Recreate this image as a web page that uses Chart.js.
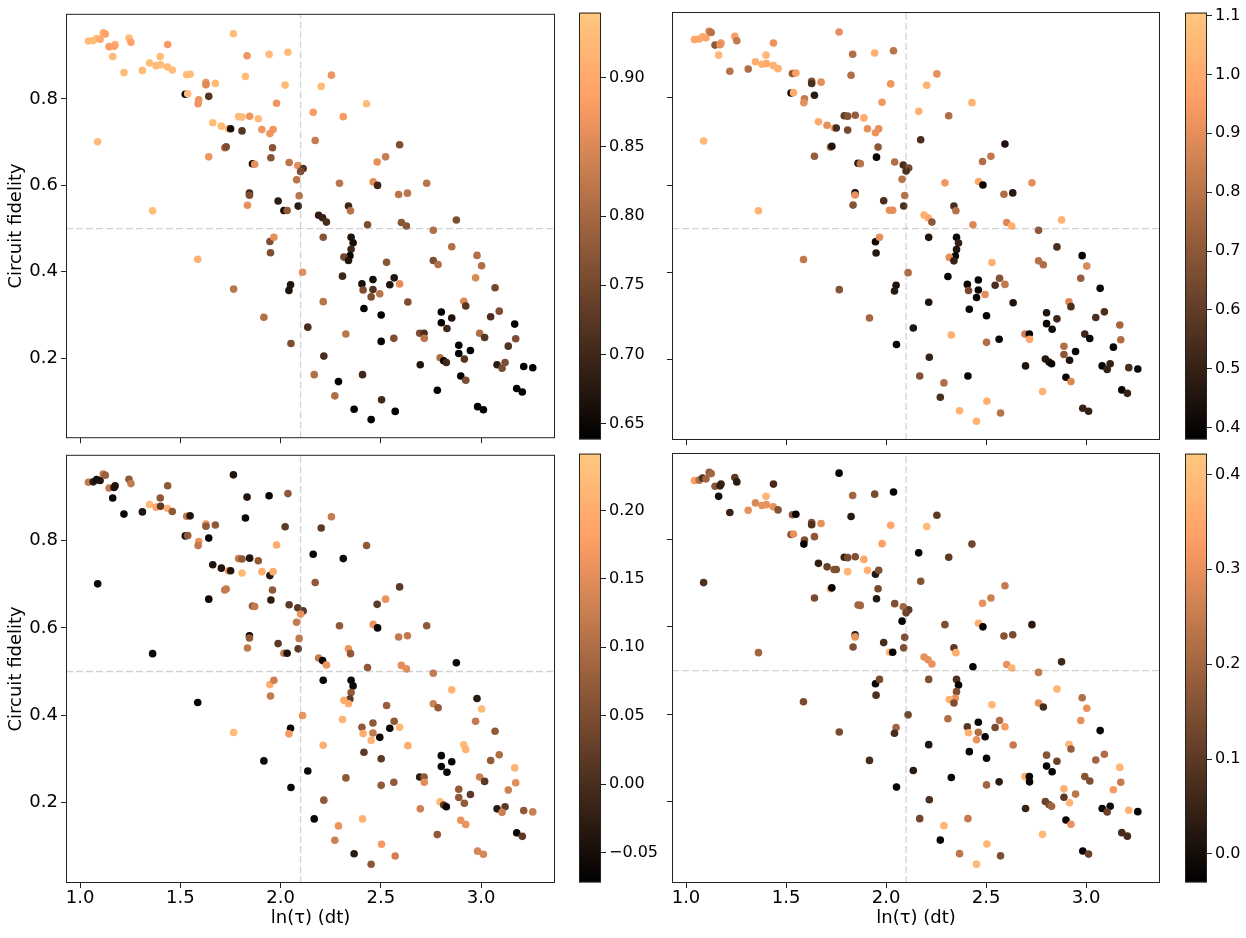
<!DOCTYPE html>
<html>
<head>
<meta charset="utf-8">
<script src="https://cdn.jsdelivr.net/npm/chart.js@4.4.0/dist/chart.umd.min.js"></script>
<style>
  html, body { margin: 0; padding: 0; background: #fff; }
  #wrap { position: relative; width: 1246px; height: 938px; overflow: hidden; }
  canvas { position: absolute; }
</style>
</head>
<body>
<div id="wrap">
  <canvas id="p1" width="565" height="452" style="left:0;top:0"></canvas>
  <canvas id="cb1" width="80" height="452" style="left:579px;top:0"></canvas>
  <canvas id="p2" width="520" height="452" style="left:650px;top:0"></canvas>
  <canvas id="cb2" width="61" height="452" style="left:1185px;top:0"></canvas>
  <canvas id="p3" width="565" height="497" style="left:0;top:441px"></canvas>
  <canvas id="cb3" width="80" height="454" style="left:579px;top:441px"></canvas>
  <canvas id="p4" width="520" height="497" style="left:650px;top:441px"></canvas>
  <canvas id="cb4" width="61" height="454" style="left:1185px;top:441px"></canvas>
</div>
<script>
// ln(tau) values (same points in every panel)
const lnTau = [
  1.042, 1.066, 1.083, 1.100, 1.116, 1.126, 1.145, 1.175, 1.170, 1.163,
  1.244, 1.254, 1.219, 1.311, 1.347, 1.380, 1.400, 1.402, 1.437, 1.436,
  1.460, 1.532, 1.549, 1.525, 1.537, 1.592, 1.589, 1.628, 1.628, 1.675,
  1.642, 1.765, 1.833, 1.825, 1.088, 1.362, 1.587, 1.766, 1.662, 1.642,
  1.705, 1.740, 1.751, 1.808, 1.791, 1.808, 1.846, 1.889, 1.722, 1.729,
  1.860, 1.871, 1.845, 1.845, 1.835,
  1.943, 2.037, 2.023, 1.980, 1.907, 1.947, 1.963, 1.960, 1.952, 2.043,
  2.086, 2.113, 2.100, 2.080, 2.093, 1.988, 2.017, 2.033, 2.088, 2.163,
  2.173, 2.203, 2.254, 2.313, 2.429, 2.294, 2.339, 2.349, 2.190, 2.210,
  2.229, 2.434, 2.482, 2.524, 2.594, 2.462, 2.484, 2.589, 2.633, 2.603,
  2.628, 1.947, 1.967, 1.950, 2.213, 2.352, 2.362, 2.352, 2.346, 2.316,
  2.339, 2.110, 2.050, 2.042, 2.309, 2.529, 2.406, 2.461, 2.412, 2.461,
  2.452, 2.495, 2.567, 2.545, 2.594, 2.635, 2.213, 2.416, 2.502, 1.917,
  2.136, 2.326, 2.502, 2.565, 2.052, 2.216, 2.168, 2.289, 2.409, 2.271,
  2.367, 2.504, 2.452, 2.572,
  2.729, 2.877, 2.762, 2.854, 2.762, 2.786, 2.980, 3.003, 2.973, 3.070,
  2.914, 2.924, 2.802, 2.854, 2.802, 2.830, 3.048, 3.091, 3.168, 2.694,
  2.716, 2.717, 2.993, 3.018, 3.173, 3.136, 2.889, 2.889, 2.947, 2.917,
  2.796, 2.814, 2.827, 2.697, 3.080, 3.120, 3.105, 3.213, 3.258, 2.899,
  2.924, 2.782, 3.178, 3.206, 2.983, 3.012
];
const fidelity = [
  0.934, 0.935, 0.940, 0.938, 0.953, 0.950, 0.921, 0.926, 0.922, 0.898,
  0.941, 0.931, 0.861, 0.866, 0.883, 0.877, 0.898, 0.879, 0.926, 0.874,
  0.867, 0.856, 0.857, 0.811, 0.812, 0.798, 0.789, 0.838, 0.833, 0.836,
  0.806, 0.951, 0.900, 0.852, 0.701, 0.541, 0.429, 0.360, 0.745, 0.666,
  0.737, 0.731, 0.731, 0.726, 0.759, 0.758, 0.760, 0.754, 0.687, 0.689,
  0.650, 0.649, 0.582, 0.577, 0.554,
  0.903, 0.908, 0.832, 0.790, 0.729, 0.720, 0.729, 0.687, 0.664, 0.653,
  0.646, 0.639, 0.632, 0.613, 0.576, 0.564, 0.542, 0.542, 0.552, 0.769,
  0.704, 0.829, 0.855, 0.759, 0.789, 0.605, 0.552, 0.541, 0.531, 0.525,
  0.515, 0.509, 0.654, 0.666, 0.694, 0.608, 0.600, 0.579, 0.582, 0.514,
  0.506, 0.470, 0.480, 0.444, 0.480, 0.480, 0.467, 0.452, 0.437, 0.434,
  0.426, 0.399, 0.370, 0.357, 0.390, 0.422, 0.372, 0.382, 0.358, 0.359,
  0.342, 0.349, 0.386, 0.370, 0.372, 0.330, 0.331, 0.315, 0.300, 0.295,
  0.272, 0.256, 0.239, 0.246, 0.234, 0.205, 0.162, 0.146, 0.162, 0.113,
  0.082, 0.104, 0.058, 0.077,
  0.605, 0.520, 0.496, 0.458, 0.426, 0.417, 0.438, 0.414, 0.386, 0.363,
  0.332, 0.321, 0.307, 0.293, 0.282, 0.269, 0.296, 0.309, 0.279, 0.258,
  0.258, 0.246, 0.258, 0.248, 0.245, 0.228, 0.230, 0.211, 0.218, 0.198,
  0.201, 0.194, 0.190, 0.185, 0.185, 0.190, 0.177, 0.181, 0.178, 0.159,
  0.149, 0.126, 0.130, 0.122, 0.088, 0.081
];
// colour value of every point, one list per panel
const colorTopLeft = [
  0.93, 0.93, 0.93, 0.90, 0.91, 0.89, 0.88, 0.92, 0.89, 0.93,
  0.93, 0.89, 0.93, 0.93, 0.93, 0.93, 0.93, 0.93, 0.88, 0.93,
  0.93, 0.93, 0.93, 0.64, 0.93, 0.87, 0.87, 0.87, 0.85, 0.93,
  0.72, 0.93, 0.87, 0.93, 0.93, 0.93, 0.91, 0.82, 0.93, 0.87,
  0.93, 0.93, 0.66, 0.72, 0.93, 0.93, 0.87, 0.93, 0.82, 0.76,
  0.66, 0.86, 0.70, 0.76, 0.86,
  0.93, 0.93, 0.93, 0.87, 0.87, 0.87, 0.87, 0.77, 0.77, 0.82,
  0.86, 0.72, 0.76, 0.82, 0.82, 0.68, 0.66, 0.78, 0.68, 0.88,
  0.83, 0.93, 0.87, 0.88, 0.93, 0.82, 0.70, 0.82, 0.68, 0.69,
  0.71, 0.76, 0.86, 0.83, 0.76, 0.86, 0.70, 0.82, 0.82, 0.77,
  0.77, 0.76, 0.86, 0.76, 0.77, 0.67, 0.66, 0.70, 0.64, 0.75,
  0.67, 0.86, 0.67, 0.67, 0.70, 0.77, 0.66, 0.66, 0.76, 0.72,
  0.76, 0.82, 0.67, 0.67, 0.86, 0.76, 0.82, 0.64, 0.64, 0.81,
  0.71, 0.82, 0.64, 0.76, 0.76, 0.71, 0.81, 0.64, 0.70, 0.81,
  0.64, 0.70, 0.64, 0.64,
  0.82, 0.76, 0.81, 0.81, 0.76, 0.81, 0.81, 0.81, 0.85, 0.75,
  0.85, 0.72, 0.64, 0.67, 0.64, 0.70, 0.71, 0.76, 0.64, 0.76,
  0.71, 0.82, 0.81, 0.72, 0.76, 0.72, 0.64, 0.64, 0.64, 0.72,
  0.81, 0.64, 0.70, 0.67, 0.68, 0.76, 0.76, 0.64, 0.64, 0.64,
  0.76, 0.64, 0.64, 0.64, 0.64, 0.64
];
const colorTopRight = [
  0.98, 0.98, 1.00, 0.98, 0.85, 0.80, 0.70, 0.93, 0.90, 1.05,
  0.95, 0.82, 0.80, 0.78, 1.02, 1.02, 1.05, 1.00, 0.92, 1.02,
  1.02, 0.70, 0.95, 0.40, 1.00, 0.82, 0.90, 0.68, 0.55, 0.90,
  0.48, 0.90, 0.78, 0.78, 1.05, 1.03, 0.82, 0.68, 1.00, 0.72,
  0.90, 1.00, 0.55, 0.65, 0.60, 0.68, 0.72, 1.00, 0.78, 0.45,
  0.45, 0.80, 0.40, 0.90, 0.68,
  1.02, 0.80, 0.93, 0.93, 0.90, 0.92, 0.90, 0.70, 0.40, 0.78,
  0.55, 0.65, 0.55, 0.80, 0.80, 0.55, 0.90, 0.90, 0.55, 1.02,
  0.55, 1.03, 0.90, 0.78, 1.03, 0.93, 0.55, 0.80, 1.02, 1.00,
  0.70, 0.88, 0.78, 0.82, 0.45, 1.00, 0.40, 0.78, 0.47, 0.88,
  1.02, 0.40, 0.90, 0.47, 0.45, 0.40, 0.50, 0.45, 0.40, 0.90,
  0.50, 0.78, 0.45, 0.47, 0.40, 1.02, 0.40, 0.40, 0.65, 0.40,
  0.40, 0.90, 0.68, 0.55, 0.82, 0.45, 0.45, 0.40, 0.40, 0.75,
  0.45, 1.02, 0.78, 0.40, 0.40, 0.50, 0.68, 0.78, 0.40, 0.55,
  1.03, 1.02, 1.03, 0.80,
  0.90, 1.03, 0.70, 0.55, 0.80, 0.78, 0.40, 0.88, 0.72, 0.40,
  0.88, 0.55, 0.45, 0.52, 0.40, 0.42, 0.55, 0.55, 0.75, 0.85,
  0.40, 0.98, 0.52, 0.40, 0.78, 0.40, 0.78, 0.70, 0.40, 0.45,
  0.47, 0.45, 0.40, 0.45, 0.40, 0.50, 0.50, 0.55, 0.40, 0.40,
  0.88, 1.03, 0.40, 0.50, 0.50, 0.50
];
const colorBottomLeft = [
  0.12, -0.03, -0.05, -0.04, 0.12, 0.08, 0.12, -0.04, -0.04, -0.06,
  0.07, 0.12, -0.06, -0.04, 0.22, 0.18, 0.07, 0.02, 0.07, 0.21,
  0.07, 0.12, -0.04, -0.04, 0.07, 0.16, 0.12, 0.16, 0.07, 0.07,
  -0.06, -0.04, -0.04, -0.06, -0.06, -0.06, -0.06, 0.22, -0.04, -0.06,
  -0.04, 0.17, -0.04, 0.22, 0.12, 0.07, -0.04, 0.07, 0.12, 0.12,
  0.07, 0.12, -0.06, 0.07, 0.12,
  -0.06, 0.07, 0.02, 0.20, 0.20, -0.03, 0.20, 0.07, -0.03, 0.02,
  0.02, 0.02, 0.16, 0.12, 0.12, 0.02, 0.12, -0.04, 0.02, -0.06,
  0.07, 0.02, 0.12, -0.06, 0.07, 0.07, 0.16, 0.07, 0.12, -0.06,
  0.16, 0.07, 0.02, 0.16, 0.02, 0.16, -0.06, 0.12, 0.12, 0.15,
  0.15, 0.20, 0.13, 0.12, -0.06, -0.06, -0.06, 0.07, 0.02, 0.20,
  0.20, 0.16, -0.06, 0.17, 0.21, 0.08, 0.07, 0.07, 0.20, 0.12,
  0.21, -0.06, 0.07, -0.06, 0.22, 0.20, 0.20, 0.02, 0.02, -0.06,
  -0.06, 0.07, 0.07, 0.07, -0.06, 0.07, -0.06, 0.16, 0.21, 0.13,
  -0.03, 0.17, 0.07, 0.13,
  0.07, -0.06, 0.12, 0.21, 0.13, 0.07, -0.03, 0.22, 0.12, 0.07,
  0.22, 0.21, -0.06, -0.06, -0.06, -0.06, 0.07, 0.10, 0.21, -0.03,
  0.07, 0.15, 0.13, 0.02, 0.15, 0.13, 0.07, 0.07, 0.02, 0.07,
  0.22, 0.02, -0.06, 0.13, -0.03, 0.02, 0.13, 0.07, 0.13, 0.16,
  0.16, 0.07, -0.06, 0.02, 0.14, 0.14
];
const colorBottomRight = [
  0.33, 0.22, 0.08, 0.20, 0.18, 0.20, 0.17, 0.05, 0.04, 0.00,
  0.10, 0.03, 0.05, 0.30, 0.28, 0.30, 0.38, 0.30, 0.07, 0.30,
  0.16, 0.17, -0.02, 0.15, 0.30, 0.15, -0.02, 0.15, 0.08, 0.30,
  0.17, -0.02, 0.20, 0.03, 0.08, 0.20, 0.14, 0.14, 0.04, 0.14,
  0.12, 0.16, 0.15, 0.38, 0.05, 0.14, 0.15, 0.35, 0.35, -0.02,
  0.20, 0.20, 0.03, 0.30, 0.15,
  0.14, -0.02, 0.35, 0.33, 0.37, 0.02, 0.15, 0.14, 0.02, 0.15,
  0.20, 0.10, 0.12, -0.02, 0.15, 0.07, 0.38, -0.02, 0.15, -0.02,
  0.16, 0.39, 0.10, 0.10, 0.13, 0.15, 0.10, 0.36, 0.30, 0.30,
  0.30, -0.02, 0.30, 0.26, 0.25, 0.37, -0.02, 0.16, 0.14, 0.30,
  0.38, -0.02, 0.14, 0.08, 0.15, 0.08, -0.02, 0.15, 0.30, 0.37,
  0.15, 0.13, 0.20, 0.07, 0.22, 0.38, 0.10, -0.02, 0.37, 0.22,
  0.30, -0.02, 0.22, 0.14, 0.32, 0.25, 0.02, -0.02, -0.02, 0.07,
  0.03, -0.02, 0.20, 0.03, -0.02, 0.08, 0.13, 0.38, 0.25, -0.02,
  0.24, 0.38, 0.39, 0.15,
  0.03, 0.06, 0.25, 0.38, 0.30, 0.07, 0.22, 0.30, 0.30, -0.02,
  0.39, 0.18, 0.16, 0.12, -0.02, -0.02, 0.20, 0.22, 0.38, 0.36,
  -0.02, -0.02, 0.16, 0.15, 0.25, 0.32, 0.37, 0.10, 0.24, 0.38,
  0.12, 0.14, 0.20, 0.05, -0.02, -0.01, 0.12, 0.37, -0.02, -0.02,
  0.30, 0.39, 0.07, 0.07, -0.02, 0.12
];

// axes
const xRange = [0.93, 3.369];
const yRange = [0.015, 0.997];
const xTicks = [1.0, 1.5, 2.0, 2.5, 3.0];
const yTicks = [0.2, 0.4, 0.6, 0.8];
const hLine = 0.5;
const vLine = 2.1;

// colorbars
const cbRangeTL = [0.6387, 0.947];
const cbTicksTL = [0.65, 0.70, 0.75, 0.80, 0.85, 0.90];
const cbRangeTR = [0.380, 1.105];
const cbTicksTR = [0.4, 0.5, 0.6, 0.7, 0.8, 0.9, 1.0, 1.1];
const cbRangeBL = [-0.0717, 0.2415];
const cbTicksBL = [-0.05, 0.00, 0.05, 0.10, 0.15, 0.20];
const cbRangeBR = [-0.030, 0.422];
const cbTicksBR = [0.0, 0.1, 0.2, 0.3, 0.4];

Chart.defaults.font.family = "'DejaVu Sans', sans-serif";
Chart.defaults.color = '#000';

// matplotlib copper colormap
function copper(t) {
  t = Math.max(0, Math.min(1, t));
  const r = Math.min(1, 1.25 * t), g = 0.7812 * t, b = 0.4975 * t;
  return 'rgb(' + Math.round(r * 255) + ',' + Math.round(g * 255) + ',' + Math.round(b * 255) + ')';
}

function fmt(v, d) {
  const s = Math.abs(v).toFixed(d);
  return v < -1e-9 ? '\u2212' + s : s;
}

const frame = {
  id: 'frame',
  afterDraw(chart) {
    const {ctx, chartArea: a} = chart;
    ctx.save();
    ctx.strokeStyle = '#222';
    ctx.lineWidth = 1;
    ctx.strokeRect(a.left + 0.5, a.top + 0.5, a.right - a.left - 1, a.bottom - a.top - 1);
    ctx.restore();
  }
};

const dashStyle = {
  type: 'line', borderColor: 'rgba(128,128,128,0.35)', borderWidth: 1.3,
  borderDash: [7, 3], pointRadius: 0, order: 0
};

function makePanel(id, colors, range, showX, showY) {
  const norm = v => (v - range[0]) / (range[1] - range[0]);
  new Chart(document.getElementById(id), {
    type: 'scatter',
    data: {
      datasets: [
        {
          data: lnTau.map((x, i) => ({x: x, y: fidelity[i]})),
          pointBackgroundColor: colors.map(v => copper(norm(v))),
          pointBorderWidth: 0,
          pointRadius: 3.8,
          order: 1
        },
        Object.assign({data: [{x: xRange[0], y: hLine}, {x: xRange[1], y: hLine}]}, dashStyle),
        Object.assign({data: [{x: vLine, y: yRange[0]}, {x: vLine, y: yRange[1]}]}, dashStyle)
      ]
    },
    options: {
      responsive: false,
      animation: false,
      events: [],
      layout: {autoPadding: false, padding: {left: 0, right: 10, top: 12, bottom: 0}},
      plugins: {legend: {display: false}, tooltip: {enabled: false}},
      scales: {
        x: {
          type: 'linear', min: xRange[0], max: xRange[1],
          afterBuildTicks: s => { s.ticks = xTicks.map(v => ({value: v})); },
          afterFit: s => { s.height = showX ? 55 : 12; },
          ticks: {display: showX, font: {size: 18}, padding: 0, autoSkip: false, maxRotation: 0,
                  callback: v => fmt(v, 1)},
          grid: {drawOnChartArea: false, drawTicks: true, tickLength: 5, color: '#222'},
          border: {display: false},
          title: {display: showX, text: 'ln(\u03c4) (dt)', font: {size: 18}, padding: {top: 0, bottom: 9}}
        },
        y: {
          type: 'linear', min: yRange[0], max: yRange[1],
          afterBuildTicks: s => { s.ticks = yTicks.map(v => ({value: v})); },
          afterFit: s => { s.width = showY ? 66 : 22; },
          ticks: {display: showY, font: {size: 18}, padding: 3, autoSkip: false,
                  callback: v => fmt(v, 1)},
          grid: {drawOnChartArea: false, drawTicks: true, tickLength: 5, color: '#222'},
          border: {display: false},
          title: {display: showY, text: 'Circuit fidelity', font: {size: 18}, padding: {top: 6, bottom: 0}}
        }
      }
    },
    plugins: [frame]
  });
}

function makeColorbar(id, range, ticks, decimals, axisWidth) {
  new Chart(document.getElementById(id), {
    type: 'bar',
    data: {
      labels: [''],
      datasets: [{
        data: [[range[0], range[1]]],
        backgroundColor: c => {
          const {ctx, chartArea} = c.chart;
          if (!chartArea) return '#000';
          const g = ctx.createLinearGradient(0, chartArea.bottom, 0, chartArea.top);
          for (let i = 0; i <= 32; i++) g.addColorStop(i / 32, copper(i / 32));
          return g;
        },
        borderWidth: 0,
        barPercentage: 1,
        categoryPercentage: 1
      }]
    },
    options: {
      responsive: false,
      animation: false,
      events: [],
      layout: {autoPadding: false, padding: {left: 0, right: 0, top: 12, bottom: 12}},
      plugins: {legend: {display: false}, tooltip: {enabled: false}},
      scales: {
        x: {display: false},
        y: {
          position: 'right', min: range[0], max: range[1],
          afterBuildTicks: s => { s.ticks = ticks.map(v => ({value: v})); },
          afterFit: s => { s.width = axisWidth; },
          ticks: {font: {size: 16}, padding: 3, autoSkip: false, callback: v => fmt(v, decimals)},
          grid: {drawOnChartArea: false, drawTicks: true, tickLength: 5, color: '#222'},
          border: {display: false}
        }
      }
    },
    plugins: [frame]
  });
}

makePanel('p1', colorTopLeft, cbRangeTL, false, true);
makePanel('p2', colorTopRight, cbRangeTR, false, false);
makePanel('p3', colorBottomLeft, cbRangeBL, true, true);
makePanel('p4', colorBottomRight, cbRangeBR, true, false);

makeColorbar('cb1', cbRangeTL, cbTicksTL, 2, 58);
makeColorbar('cb2', cbRangeTR, cbTicksTR, 1, 39);
makeColorbar('cb3', cbRangeBL, cbTicksBL, 2, 58);
makeColorbar('cb4', cbRangeBR, cbTicksBR, 1, 39);
</script>
</body>
</html>
